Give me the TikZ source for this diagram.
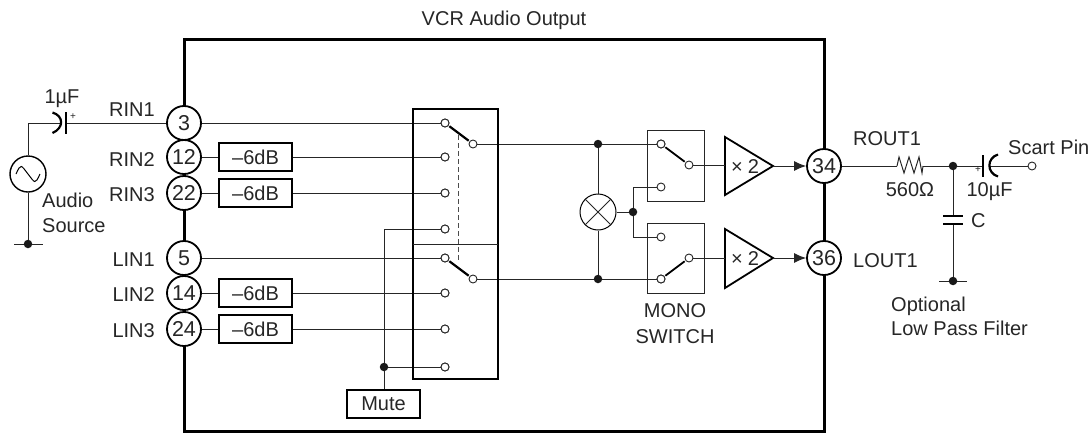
\documentclass[tikz,border=0pt]{standalone}
\usepackage{fontspec}
\setmainfont{Liberation Sans}
\usetikzlibrary{arrows.meta,calc}
\tikzset{
  wire/.style={draw=black!85,line width=1pt},
  heavy/.style={draw=black,line width=2.2pt},
  pin/.style={circle,draw=black,line width=1.8pt,fill=white,minimum size=34pt,inner sep=0pt,text=black!85,font=\fontsize{21.5}{21.5}\selectfont},
  contact/.style={circle,draw=black!85,line width=.9pt,fill=white,minimum size=8pt,inner sep=0pt},
  junction/.style={circle,fill=black!90,minimum size=8.5pt,inner sep=0pt},
  gainbox/.style={rectangle,draw=black,line width=1.8pt,fill=white,minimum width=73pt,minimum height=28.5pt,inner sep=0pt},
  lbl/.style={inner sep=0pt,text=black!85,font=\fontsize{20}{20}\selectfont},
  lbll/.style={lbl,anchor=base west},
  lblr/.style={lbl,anchor=base east},
  lblc/.style={lbl,anchor=base},
}
\begin{document}
\begin{tikzpicture}[x=1pt,y=-1pt]
\useasboundingbox (0,0) rectangle (1091,434);
% frame
\coordinate (fTL) at (184,39); \coordinate (fBR) at (824,431);
\draw[black,line width=3pt] (fTL) rectangle (fBR);
% selector and mono boxes
\coordinate (sTL) at (413,109); \coordinate (sBR) at (498,379);
\coordinate (sdL) at (413,244); \coordinate (sdR) at (498,244);
\coordinate (m1a) at (647,130); \coordinate (m1b) at (704,201);
\coordinate (m2a) at (647,223); \coordinate (m2b) at (704,293);
% pins
\node[pin] (p3) at (184,123) {3};
\node[pin] (p12) at (184,157) {12};
\node[pin] (p22) at (184,193) {22};
\node[pin] (p5) at (184,258) {5};
\node[pin] (p14) at (184,293) {14};
\node[pin] (p24) at (184,329) {24};
\node[pin] (p34) at (824,166) {34};
\node[pin] (p36) at (824,258) {36};
% gain boxes
\node[gainbox,lbl] (g1) at (255.5,157) {–6dB};
\node[gainbox,lbl] (g2) at (255.5,193) {–6dB};
\node[gainbox,lbl] (g3) at (255.5,293) {–6dB};
\node[gainbox,lbl] (g4) at (255.5,329) {–6dB};
\node[gainbox,lbl,minimum height=28pt] (mute) at (383.5,404) {Mute};
% contacts
\node[contact] (c1) at (445,123) {};
\node[contact] (c2) at (445,157) {};
\node[contact] (c3) at (445,193) {};
\node[contact] (c4) at (445,229) {};
\node[contact] (c5) at (445,258) {};
\node[contact] (c6) at (445,293) {};
\node[contact] (c7) at (445,329) {};
\node[contact] (c8) at (445,367) {};
\node[contact] (r1) at (473,144) {};
\node[contact] (r2) at (473,279) {};
\node[contact] (a1) at (661,144) {};
\node[contact] (a2) at (661,187) {};
\node[contact] (a3) at (661,237) {};
\node[contact] (a4) at (661,279) {};
\node[contact] (o1) at (689,165) {};
\node[contact] (o2) at (689,258) {};
% junctions
\node[junction] (j1) at (598,144) {};
\node[junction] (j2) at (598,279) {};
\node[junction] (j3) at (633,212) {};
\node[junction] (jm) at (384,367) {};
\node[junction] (jg) at (28,244) {};
\node[junction] (jr) at (953,166) {};
\node[junction] (jc) at (953,281) {};
% wires
\draw[wire] (p3) -- (c1);
\draw[wire] (p5) -- (c5);
\draw[wire] (p12) -- (g1); \draw[wire] (g1) -- (c2);
\draw[wire] (p22) -- (g2); \draw[wire] (g2) -- (c3);
\draw[wire] (p14) -- (g3); \draw[wire] (g3) -- (c6);
\draw[wire] (p24) -- (g4); \draw[wire] (g4) -- (c7);
\draw[wire] (mute.north -| jm) -- (jm);
\draw[wire] (jm) -- (384,229) -- (c4);
\draw[wire] (jm) -- (c8);
\draw[wire] (r1) -- (j1); \draw[wire] (j1) -- (a1);
\draw[wire] (r2) -- (j2); \draw[wire] (j2) -- (a4);
% selector box
\draw[black,line width=1.8pt] (sTL) rectangle (sBR);
\draw[wire] (sdL) -- (sdR);
\node[contact] at (c1) {}; \node[contact] at (c2) {}; \node[contact] at (c3) {}; \node[contact] at (c4) {};
\node[contact] at (c5) {}; \node[contact] at (c6) {}; \node[contact] at (c7) {}; \node[contact] at (c8) {};
\draw[heavy,shorten <=1pt,shorten >=1pt] (c1) -- (r1);
\draw[heavy,shorten <=1pt,shorten >=1pt] (c5) -- (r2);
\draw[draw=black!70,line width=1pt,dash pattern=on 4.5pt off 3.5pt] (458,135) -- (458,262);
% mono boxes
\draw[wire] (m1a) rectangle (m1b);
\draw[wire] (m2a) rectangle (m2b);
\node[contact] at (a1) {}; \node[contact] at (a4) {};
\draw[wire] (j3) |- (a2);
\draw[wire] (j3) |- (a3);
\draw[heavy,line width=1.8pt,shorten <=1pt,shorten >=1pt] (a1) -- (o1);
\draw[heavy,line width=1.8pt,shorten <=1pt,shorten >=1pt] (a4) -- (o2);
% multiplier
\node[circle,draw=black,line width=1pt,fill=white,minimum size=36pt,inner sep=0pt] (mx) at (598,212) {};
\draw[wire] (mx.45) -- (mx.225);
\draw[wire] (mx.135) -- (mx.315);
\draw[wire] (j1) -- (mx); \draw[wire] (j2) -- (mx); \draw[wire] (mx) -- (j3);
% amplifiers
\coordinate (t1a) at (725,137); \coordinate (t1b) at (725,195); \coordinate (t1c) at (773,166);
\coordinate (t2a) at (725,229); \coordinate (t2b) at (725,288); \coordinate (t2c) at (773,258);
\draw[black,line width=1.8pt,line join=miter] (t1a) -- (t1c) -- (t1b) -- cycle;
\draw[black,line width=1.8pt,line join=miter] (t2a) -- (t2c) -- (t2b) -- cycle;
\draw[wire] (o1) -- (725,165);
\draw[wire] (o2) -- (725,258);
\node[lbl,anchor=base] (x1) at (745,173) {×\hspace{5pt}2};
\node[lbl,anchor=base] (x2) at (745,265) {×\hspace{5pt}2};
\draw[wire,-{Latex[length=12pt,width=10pt]}] (t1c) -- (p34);
\draw[wire,-{Latex[length=12pt,width=10pt]}] (t2c) -- (p36);
% source
\node[circle,draw=black,line width=1.4pt,fill=white,minimum size=36pt,inner sep=0pt] (src) at (28,174) {};
\draw[black,line width=1pt] ($(src.center)+(-12,0)$) .. controls +(5,-11) and +(-7,-9) .. (src.center) .. controls +(7,9) and +(-5,11) .. ($(src.center)+(12,0)$);
\coordinate (capL) at (62,123); \coordinate (capS) at (66,123); \coordinate (srcT) at (28,123);
\draw[wire] (src) -- (srcT) -- (capL);
\draw[wire] (capS) -- (p3);
\draw[wire] (src) -- (jg);
\draw[wire] (14,244) -- (jg) -- (43,244);
\draw[heavy] (capS)+(0,-11) -- +(0,11);
\draw[heavy] (52.5,112.5) .. controls (64,116) and (64,128) .. (52.5,133);
\node[inner sep=0pt,text=black!85,font=\fontsize{10}{10}\selectfont] (pl1) at (73,117) {+};
% output network
\coordinate (rl) at (897,166); \coordinate (rr) at (923,166);
\draw[wire] (p34) -- (rl);
\draw[wire,line join=miter] (rl) -- (899,157) -- (904,173) -- (909,157) -- (914,173) -- (919,157) -- (922,173) -- (rr);
\draw[wire] (rr) -- (jr);
\coordinate (cr1) at (983,166); \coordinate (cr2) at (990,166);
\node[contact] (scart) at (1032,166) {};
\draw[wire] (jr) -- (cr1);
\draw[wire] (cr2) -- (scart);
\draw[heavy] (cr1)+(0,-11) -- +(0,11);
\draw[heavy] (998,154.5) .. controls (986.5,158) and (986.5,173) .. (998,176.5);
\node[inner sep=0pt,text=black!85,font=\fontsize{10}{10}\selectfont] (pl2) at (978,170) {+};
\coordinate (ct) at (953,216); \coordinate (cb) at (953,224);
\draw[wire] (jr) -- (ct); \draw[wire] (cb) -- (jc);
\draw[heavy] (943,216) -- (963,216);
\draw[heavy] (943,224) -- (963,224);
\draw[wire] (939,281) -- (jc) -- (967,281);
% labels
\node[lblc] (title) at (504,25) {VCR Audio Output};
\node[lblc] (l1u) at (62,103) {1µF};
\node[lblr] (lr1) at (155,116) {RIN1};
\node[lblr] (lr2) at (155,166) {RIN2};
\node[lblr] (lr3) at (155,201) {RIN3};
\node[lblr] (ll1) at (155,266) {LIN1};
\node[lblr] (ll2) at (155,301) {LIN2};
\node[lblr] (ll3) at (155,337) {LIN3};
\node[lbll] (la) at (42,207) {Audio};
\node[lbll] (ls) at (42,232) {Source};
\node[lblc] (lm1) at (675,317) {MONO};
\node[lblc] (lm2) at (675,343) {SWITCH};
\node[lbll] (lo1) at (853,145) {ROUT1};
\node[lbll] (lo2) at (853,267) {LOUT1};
\node[lblc] (lrv) at (910,196) {560Ω};
\node[lblc] (l10) at (989.5,196) {10µF};
\node[lbll] (lsc) at (1008,154) {Scart Pin};
\node[lbll] (lc) at (971,227) {C};
\node[lbll] (lop) at (891,311) {Optional};
\node[lbll] (llp) at (891,335) {Low Pass Filter};
\end{tikzpicture}
\end{document}
